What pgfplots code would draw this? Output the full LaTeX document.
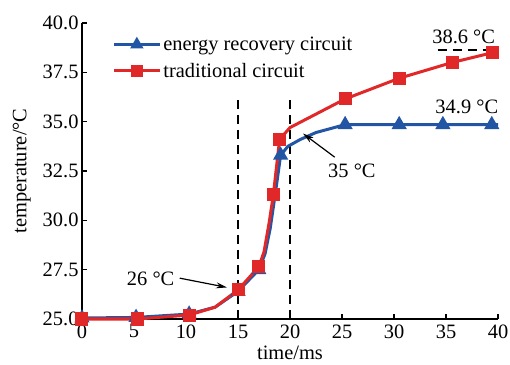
\documentclass[border=0pt]{standalone}
\usepackage{fontspec}
\setmainfont{Liberation Serif}
\usepackage{pgfplots}
\pgfplotsset{compat=1.18}
\usetikzlibrary{arrows.meta}
\definecolor{cblue}{RGB}{35,85,165}
\definecolor{cred}{RGB}{225,40,40}
\begin{document}
\begin{tikzpicture}[font=\fontsize{20.5}{24}\selectfont]
\begin{axis}[
  scale only axis, width=416bp, height=296bp,
  xmin=0, xmax=40, ymin=25, ymax=40,
  axis lines=left, axis line style={-, line width=1.2bp, black},
  tick align=inside, tick style={black, line width=1.2bp}, major tick length=5bp,
  xtick={0,5,...,40}, ytick={25,27.5,30,32.5,35,37.5,40},
  xticklabel style={yshift=-2bp},
  yticklabel style={/pgf/number format/.cd, fixed, fixed zerofill, precision=1},
  /pgf/number format/assume math mode=true,
  xlabel={time/ms}, ylabel={temperature/°C},
  every axis x label/.style={at={(axis description cs:0.5,-0.113)}, anchor=center, inner sep=1bp},
  every axis y label/.style={at={(axis description cs:-0.145,0.5)}, rotate=90, anchor=center},
  clip=false,
  legend style={at={(axis cs:2.9,39.4)}, anchor=north west, draw=none, fill=none,
    row sep=7bp, inner sep=0pt, font=\fontsize{20.5}{24}\selectfont},
  legend cell align=left,
  legend image code/.code={
    \draw[mark indices={2}, mark size=4.8bp] plot coordinates {(0bp,0bp) (23bp,0bp) (46bp,0bp)};
  },
]
\coordinate (axisSW) at (rel axis cs:0,0);
\draw[black, line width=1.3bp, dash pattern=on 9bp off 6bp] (axis cs:15,25) -- (axis cs:15,36.1);
\draw[black, line width=1.3bp, dash pattern=on 9bp off 6bp] (axis cs:20,25) -- (axis cs:20,36.1);
\draw[black, line width=1.3bp, dash pattern=on 9bp off 6bp] (axis cs:34.2,38.63) -- (axis cs:40,38.63);

\addplot[cblue, line width=3bp, mark=triangle*, mark size=5.8bp,
  mark indices={1,2,3,5,6,10,14,15,16,17}] coordinates {
  (0,25.05) (5.2,25.08) (10.3,25.25) (12.8,25.6) (15,26.4) (17,27.5)
  (17.6,28.3) (18.1,29.6) (18.6,31.4) (19.1,33.3) (19.8,33.75) (21,34.1)
  (22.5,34.45) (25.3,34.85) (30.5,34.85) (34.7,34.85) (39.4,34.85) (40,34.85)
};
\addlegendentry{energy recovery circuit}
\addplot[cred, line width=3bp, mark=square*, mark size=5bp,
  mark indices={1,2,3,5,6,9,10,12,13,14,15}] coordinates {
  (0,25.0) (5.3,25.0) (10.3,25.2) (12.8,25.6) (15,26.47) (17,27.65)
  (17.5,28.4) (18.0,29.9) (18.4,31.3) (19.0,34.1) (20.0,34.7)
  (25.3,36.15) (30.5,37.2) (35.6,38.0) (39.5,38.5) (40,38.6)
};
\addlegendentry{traditional circuit}

\node at (axis cs:6.6,27.03) {26 °C};
\draw[black, line width=1.2bp, -{Stealth[length=11bp,width=6bp]}] (axis cs:9.4,27.07) -- (axis cs:13.95,26.6);
\node at (axis cs:25.95,32.5) {35 °C};
\draw[black, line width=1.2bp, -{Stealth[length=11bp,width=6bp]}] (axis cs:24.3,33.2) -- (axis cs:21.25,34.4);
\node at (axis cs:37.0,35.74) {34.9 °C};
\node at (axis cs:36.7,39.29) {38.6 °C};
\end{axis}
\pgfresetboundingbox
\path ([shift={(-82bp,-46bp)}]axisSW) rectangle ([shift={(428bp,319bp)}]axisSW);
\end{tikzpicture}
\end{document}
